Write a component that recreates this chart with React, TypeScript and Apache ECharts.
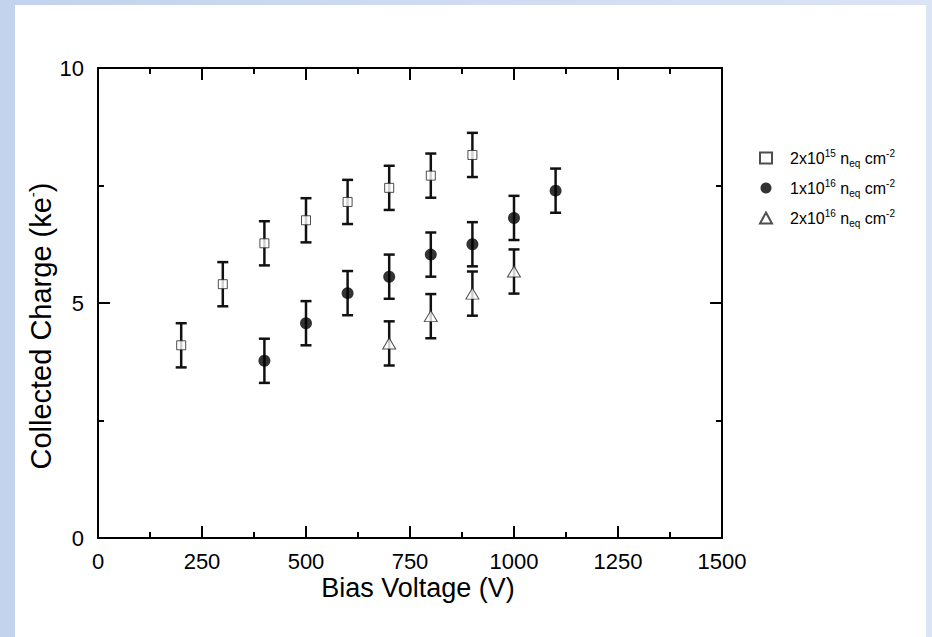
import React, { useEffect, useRef } from "react";
import * as echarts from "echarts";

// Bias voltage (V) and collected charge (ke-) per fluence
const voltage2e15 = [200, 300, 400, 500, 600, 700, 800, 900];
const charge2e15 = [4.1, 5.4, 6.27, 6.76, 7.15, 7.45, 7.71, 8.15];
const error2e15 = [0.47, 0.47, 0.47, 0.47, 0.47, 0.47, 0.47, 0.47];

const voltage1e16 = [400, 500, 600, 700, 800, 900, 1000, 1100];
const charge1e16 = [3.77, 4.57, 5.21, 5.56, 6.03, 6.25, 6.81, 7.39];
const error1e16 = [0.47, 0.47, 0.47, 0.47, 0.47, 0.47, 0.47, 0.47];

const voltage2e16 = [700, 800, 900, 1000];
const charge2e16 = [4.14, 4.72, 5.2, 5.67];
const error2e16 = [0.47, 0.47, 0.47, 0.47];

const seriesNames = ["2x10^15 neq cm^-2", "1x10^16 neq cm^-2", "2x10^16 neq cm^-2"];
const legendLabels: Record<string, string> = {
  "2x10^15 neq cm^-2": "2x10{sup|15} n{sub|eq} cm{sup|-2}",
  "1x10^16 neq cm^-2": "1x10{sup|16} n{sub|eq} cm{sup|-2}",
  "2x10^16 neq cm^-2": "2x10{sup|16} n{sub|eq} cm{sup|-2}",
};

const xTicks = { min: 0, max: 1500, interval: 250 };
const yTicks = { min: 0, max: 10, interval: 5 };

const FONT = "'Liberation Sans', Arial, sans-serif";

function points(xs: number[], ys: number[]) {
  return xs.map((x, i) => [x, ys[i]]);
}
function errs(xs: number[], ys: number[], es: number[]) {
  return xs.map((x, i) => [x, ys[i] - es[i], ys[i] + es[i]]);
}

function renderErr(params: any, api: any) {
  const x = api.value(0);
  const lo = api.coord([x, api.value(1)]);
  const hi = api.coord([x, api.value(2)]);
  const cap = 5.5;
  const style = { stroke: "#111", lineWidth: 2.5 };
  return {
    type: "group",
    children: [
      { type: "line", shape: { x1: hi[0], y1: hi[1], x2: lo[0], y2: lo[1] }, style },
      { type: "line", shape: { x1: hi[0] - cap, y1: hi[1], x2: hi[0] + cap, y2: hi[1] }, style },
      { type: "line", shape: { x1: lo[0] - cap, y1: lo[1], x2: lo[0] + cap, y2: lo[1] }, style },
    ],
  };
}

export default function App() {
  const ref = useRef<HTMLDivElement>(null);
  useEffect(() => {
    if (!ref.current) return;
    const chart = echarts.init(ref.current, undefined, { renderer: "svg" });

    const axisCommon = {
      type: "value",
      splitLine: { show: false },
      axisLine: { show: true, onZero: false, lineStyle: { color: "#000", width: 2 } },
      axisTick: { show: true, inside: true, length: 12, lineStyle: { color: "#000", width: 2 } },
      minorTick: { show: true, splitNumber: 2, length: 6, lineStyle: { color: "#000", width: 2 } },
      minorSplitLine: { show: false },
    };

    const option: any = {
      animation: false,
      backgroundColor: {
        type: "linear",
        x: 0, y: 0, x2: 1, y2: 0,
        colorStops: [
          { offset: 0, color: "#c3d3ed" },
          { offset: 1, color: "#dae4f5" },
        ],
      },
      graphic: [
        {
          type: "rect",
          z: -100,
          silent: true,
          shape: { x: 15, y: 5, width: 911, height: 640 },
          style: { fill: "#ffffff" },
        },
      ],
      grid: { left: 98, right: 210, top: 68, bottom: 99, containLabel: false },
      legend: {
        orient: "vertical",
        left: 754,
        top: 143,
        itemWidth: 12,
        itemHeight: 11,
        itemGap: 10,
        data: seriesNames,
        formatter: (name: string) => legendLabels[name],
        textStyle: {
          fontFamily: FONT,
          fontSize: 16,
          color: "#000",
          lineHeight: 20,
          padding: [0, 0, 0, 13],
          rich: {
            sup: { fontFamily: FONT, fontSize: 10, lineHeight: 10, verticalAlign: "top", color: "#000" },
            sub: { fontFamily: FONT, fontSize: 10, lineHeight: 10, verticalAlign: "bottom", color: "#000" },
          },
        },
      },
      xAxis: [
        {
          ...axisCommon,
          position: "bottom",
          ...xTicks,
          axisLabel: {
            show: true, fontFamily: FONT, fontSize: 22, color: "#000", margin: 12,
            formatter: (v: number) => String(v),
          },
          name: "Bias Voltage (V)",
          nameLocation: "middle",
          nameMoveOverlap: false,
          nameGap: 36,
          nameTextStyle: { fontFamily: FONT, fontSize: 27, color: "#000", padding: [0, 0, 0, 16] },
        },
        {
          ...axisCommon,
          position: "top",
          ...xTicks,
          axisLabel: { show: false },
        },
      ],
      yAxis: [
        {
          ...axisCommon,
          position: "left",
          ...yTicks,
          axisLabel: {
            show: true, fontFamily: FONT, fontSize: 22, color: "#000", margin: 14,
            formatter: (v: number) => String(v),
          },
          name: "Collected Charge (ke{sup|-})",
          nameLocation: "middle",
          nameMoveOverlap: false,
          nameGap: 41,
          nameTextStyle: {
            fontFamily: FONT,
            fontSize: 29,
            color: "#000",
            lineHeight: 32,
            padding: [0, 46, 0, 0],
            rich: {
              sup: { fontFamily: FONT, fontSize: 15, lineHeight: 15, verticalAlign: "top", color: "#000" },
            },
          },
        },
        {
          ...axisCommon,
          position: "right",
          ...yTicks,
          axisLabel: { show: false },
        },
      ],
      series: [
        {
          type: "custom",
          name: "err15",
          renderItem: renderErr,
          data: errs(voltage2e15, charge2e15, error2e15),
          encode: { x: 0, y: [1, 2] },
          z: 1,
          silent: true,
        },
        {
          type: "custom",
          name: "err16a",
          renderItem: renderErr,
          data: errs(voltage1e16, charge1e16, error1e16),
          encode: { x: 0, y: [1, 2] },
          z: 1,
          silent: true,
        },
        {
          type: "custom",
          name: "err16b",
          renderItem: renderErr,
          data: errs(voltage2e16, charge2e16, error2e16),
          encode: { x: 0, y: [1, 2] },
          z: 1,
          silent: true,
        },
        {
          type: "scatter",
          name: seriesNames[0],
          data: points(voltage2e15, charge2e15),
          symbol: "rect",
          symbolSize: 9,
          itemStyle: { color: "#fff", borderColor: "#222", borderWidth: 1 },
          z: 3,
        },
        {
          type: "scatter",
          name: seriesNames[1],
          data: points(voltage1e16, charge1e16),
          symbol: "circle",
          symbolSize: 12,
          itemStyle: { color: "#000", borderColor: "#000", borderWidth: 0 },
          z: 3,
        },
        {
          type: "scatter",
          name: seriesNames[2],
          data: points(voltage2e16, charge2e16),
          symbol: "triangle",
          symbolSize: [13, 11],
          itemStyle: { color: "#fff", borderColor: "#222", borderWidth: 1 },
          z: 3,
        },
      ],
    };

    chart.setOption(option);
    return () => chart.dispose();
  }, []);

  return (
    <div
      ref={ref}
      style={{ position: "fixed", left: 0, top: 0, width: 932, height: 637 }}
    />
  );
}
